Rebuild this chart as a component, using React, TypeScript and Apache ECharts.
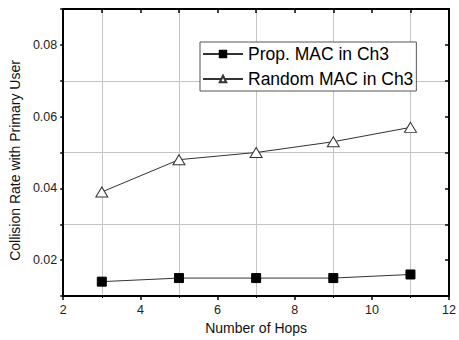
import React, { useEffect, useRef } from "react";
import * as echarts from "echarts";

const hops = [3, 5, 7, 9, 11];
const propMac = [0.014, 0.015, 0.015, 0.015, 0.016];
const randomMac = [0.039, 0.048, 0.05, 0.053, 0.057];
const seriesNames = ["Prop. MAC in Ch3", "Random MAC in Ch3"];
const xTitle = "Number of Hops";
const yTitle = "Collision Rate with Primary User";

export default function App() {
  const ref = useRef<HTMLDivElement>(null);
  useEffect(() => {
    document.body.style.margin = "0";
    if (!ref.current) return;
    const chart = echarts.init(ref.current, null, { renderer: "svg" });
    const gridGray = "#c4c4c4";
    const font = "'Liberation Sans', Arial, sans-serif";
    chart.setOption({
      animation: false,
      backgroundColor: "#fff",
      grid: { left: 61, right: 7, top: 9, bottom: 44, containLabel: false },
      legend: {
        orient: "vertical",
        left: 200,
        top: 42,
        itemWidth: 40,
        itemHeight: 8,
        itemGap: 7,
        padding: [3, 3, 3, 2],
        borderColor: "#555",
        borderWidth: 1,
        backgroundColor: "#fff",
        textStyle: { fontSize: 17.5, color: "#000", fontFamily: font, padding: [0, 0, 0, 0] },
        data: seriesNames,
      },
      xAxis: [
        {
          type: "value",
          min: 2,
          max: 12,
          interval: 2,
          name: xTitle,
          nameLocation: "middle",
          nameGap: 24,
          nameTextStyle: { fontSize: 14, color: "#111", fontFamily: font },
          axisLine: { show: true, onZero: false, lineStyle: { color: "#000", width: 2 } },
          axisTick: { show: true, inside: false, length: 4, lineStyle: { color: "#000", width: 1.5 } },
          minorTick: { show: true, splitNumber: 2, length: 2, lineStyle: { color: "#000", width: 1 } },
          axisLabel: { fontSize: 12.5, color: "#222", fontFamily: font, margin: 7 },
          splitLine: { show: false },
          minorSplitLine: { show: true, lineStyle: { color: gridGray, width: 1 } },
        },
        {
          type: "value",
          position: "top",
          min: 2,
          max: 12,
          interval: 1,
          axisLine: { show: true, onZero: false, lineStyle: { color: "#000", width: 2 } },
          axisTick: { show: true, inside: true, length: 4, lineStyle: { color: "#000", width: 1.5 } },
          axisLabel: { show: false },
          splitLine: { show: false },
        },
      ],
      yAxis: [
        {
          type: "value",
          min: 0.01,
          max: 0.09,
          interval: 0.01,
          name: yTitle,
          nameLocation: "middle",
          nameGap: 38,
          nameTextStyle: { fontSize: 14, color: "#111", fontFamily: font, padding: [0, 16, 0, 0] },
          axisLine: { show: true, onZero: false, lineStyle: { color: "#000", width: 2 } },
          axisTick: { show: true, inside: false, length: 3, lineStyle: { color: "#000", width: 1.5 } },
          axisLabel: {
            fontSize: 12.5,
            color: "#222",
            fontFamily: font,
            margin: 6,
            formatter: (v: number) => {
              const k = Math.round(v * 100);
              return k % 2 === 0 && k >= 2 && k <= 8 ? (k / 100).toFixed(2) : "";
            },
          },
          splitLine: { show: true, lineStyle: { color: [gridGray, "rgba(0,0,0,0)"], width: 1 } },
        },
        {
          type: "value",
          position: "right",
          min: 0.01,
          max: 0.09,
          interval: 0.01,
          axisLine: { show: true, onZero: false, lineStyle: { color: "#000", width: 2 } },
          axisTick: { show: true, inside: true, length: 4, lineStyle: { color: "#000", width: 1.5 } },
          axisLabel: { show: false },
          splitLine: { show: false },
        },
      ],
      series: [
        {
          name: seriesNames[0],
          type: "line",
          xAxisIndex: 0,
          yAxisIndex: 0,
          data: hops.map((x, i) => [x, propMac[i]]),
          symbol: "rect",
          symbolSize: 9,
          lineStyle: { color: "#333", width: 1 },
          itemStyle: { color: "#000", borderColor: "#000", borderWidth: 1 },
          z: 3,
        },
        {
          name: seriesNames[1],
          type: "line",
          xAxisIndex: 0,
          yAxisIndex: 0,
          data: hops.map((x, i) => [x, randomMac[i]]),
          symbol: "triangle",
          symbolSize: [12, 10],
          lineStyle: { color: "#333", width: 1 },
          itemStyle: { color: "#fff", borderColor: "#333", borderWidth: 1 },
          z: 3,
        },
      ],
    });
    return () => chart.dispose();
  }, []);
  return <div ref={ref} style={{ width: 459, height: 340 }} />;
}
